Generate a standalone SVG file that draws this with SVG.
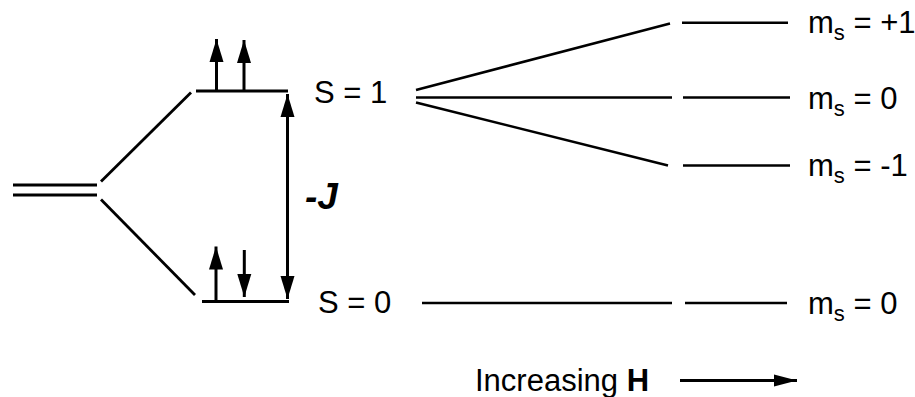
<svg xmlns="http://www.w3.org/2000/svg" width="915" height="397" viewBox="0 0 915 397">
<style>
.ln{stroke:#000;stroke-width:2.8;fill:none;stroke-linecap:butt}
.fn{stroke:#000;stroke-width:2.5;fill:none}
.ar{stroke:#000;stroke-width:3;fill:none;marker-end:url(#ah)}
.t{font-family:"Liberation Sans",Arial,sans-serif;font-size:31px;fill:#000}
.sub{font-size:22px}
</style>
<defs>
<marker id="ah" markerUnits="userSpaceOnUse" markerWidth="24" markerHeight="15" refX="23" refY="7.5" orient="auto-start-reverse" viewBox="0 0 24 15">
<path d="M0,0.5 L23,7.5 L0,14.5 z" fill="#000"/>
</marker>
<marker id="ah2" markerUnits="userSpaceOnUse" markerWidth="24" markerHeight="13" refX="23" refY="6.5" orient="auto" viewBox="0 0 24 13">
<path d="M0,0.5 L23,6.5 L0,12.5 z" fill="#000"/>
</marker>
</defs>
<rect width="915" height="397" fill="#fff"/>
<g id="connectors">
<line class="ln" x1="13" y1="185" x2="97" y2="185"/>
<line class="ln" x1="13" y1="195" x2="97" y2="195"/>
<line class="ln" x1="101" y1="181.5" x2="191" y2="92.5"/>
<line class="ln" x1="101" y1="199.5" x2="195" y2="295"/>
<line class="fn" x1="416" y1="90" x2="670" y2="23.5"/>
<line class="fn" x1="416" y1="97.5" x2="672" y2="97.5"/>
<line class="fn" x1="416" y1="102.5" x2="668" y2="165.5"/>
<line class="fn" x1="422" y1="303" x2="672" y2="303"/>
<line class="ar" x1="287.5" y1="200" x2="287.5" y2="94"/>
<line class="ar" x1="287.5" y1="200" x2="287.5" y2="299"/>
<line x1="680" y1="380.5" x2="797" y2="380.5" stroke="#000" stroke-width="2.8" marker-end="url(#ah2)"/>
</g>
<g id="level-S1">
<line class="ln" x1="196" y1="91" x2="288" y2="91"/>
<line class="ar" x1="216.5" y1="91" x2="216.5" y2="39"/>
<line class="ar" x1="244" y1="91" x2="244" y2="40"/>
<text class="t" x="314" y="103">S = 1</text>
</g>
<g id="level-S0">
<line class="ln" x1="202" y1="301.5" x2="289" y2="301.5"/>
<line class="ar" x1="216" y1="300" x2="216" y2="246.5"/>
<line class="ar" x1="244.3" y1="250" x2="244.3" y2="297"/>
<text class="t" x="318" y="313">S = 0</text>
</g>
<g id="label-J">
<text class="t" x="305" y="209" style="font-size:37px;font-weight:bold;font-style:italic">-J</text>
</g>
<g id="ms-plus1">
<line class="fn" x1="682" y1="22.7" x2="788" y2="22.7"/>
<text class="t" x="808" y="33">m<tspan class="sub" dy="7">s</tspan><tspan dy="-7"> = +1</tspan></text>
</g>
<g id="ms-0-top">
<line class="fn" x1="683" y1="97.5" x2="790" y2="97.5"/>
<text class="t" x="808" y="108.5">m<tspan class="sub" dy="7">s</tspan><tspan dy="-7"> = 0</tspan></text>
</g>
<g id="ms-minus1">
<line class="fn" x1="683" y1="165.5" x2="790" y2="165.5"/>
<text class="t" x="808" y="176">m<tspan class="sub" dy="7">s</tspan><tspan dy="-7"> = -1</tspan></text>
</g>
<g id="ms-0-bottom">
<line class="fn" x1="685" y1="303" x2="787" y2="303"/>
<text class="t" x="808" y="313.5">m<tspan class="sub" dy="7">s</tspan><tspan dy="-7"> = 0</tspan></text>
</g>
<g id="label-H">
<text class="t" x="475" y="391">Increasing <tspan font-weight="bold">H</tspan></text>
</g>
</svg>
